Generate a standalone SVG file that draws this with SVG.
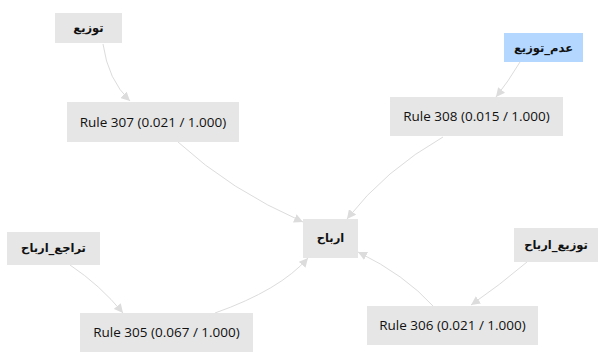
<svg xmlns="http://www.w3.org/2000/svg" width="600" height="352" viewBox="0 0 600 352">
<style>
.box{fill:#e6e6e6}
.blue{fill:#b3d7ff}
.rule{font-family:"Open Sans","Noto Sans",sans-serif;font-size:13.5px;fill:#111;text-anchor:middle}
.ar{font-family:"DejaVu Sans",sans-serif;font-size:11.5px;font-weight:bold;fill:#111;text-anchor:middle}
.edge{fill:none;stroke:#dcdcdc;stroke-width:1}
</style>
<defs>
<marker id="arr" viewBox="0 0 10 10" refX="10" refY="5" markerWidth="9" markerHeight="9" orient="auto" markerUnits="userSpaceOnUse">
<path d="M0,0 L10,5 L0,10 Z" fill="#dcdcdc"/>
</marker>
</defs>
<g id="connectors">
<path class="edge" d="M103,44 Q108,80 130,101" marker-end="url(#arr)"/>
<path class="edge" d="M178,142 Q230,190 303,222" marker-end="url(#arr)"/>
<path class="edge" d="M520,62 Q508,82 496,97" marker-end="url(#arr)"/>
<path class="edge" d="M443,137 Q385,170 347,219" marker-end="url(#arr)"/>
<path class="edge" d="M70,265 Q100,285 123,313" marker-end="url(#arr)"/>
<path class="edge" d="M215,313 Q280,290 308,258" marker-end="url(#arr)"/>
<path class="edge" d="M527,262 Q500,285 471,305" marker-end="url(#arr)"/>
<path class="edge" d="M433,306 Q405,275 358,252" marker-end="url(#arr)"/>
</g>
<g id="n_tawzi">
<rect class="box" x="55" y="13" width="67" height="30"/>
<text class="ar" x="88.5" y="32">توزيع</text>
</g>
<g id="n_adam_tawzi">
<rect class="blue" x="504" y="33" width="79" height="29"/>
<text class="ar" x="543.5" y="51.5">عدم_توزيع</text>
</g>
<g id="n_rule307">
<rect class="box" x="67" y="102" width="172" height="40"/>
<text class="rule" x="153" y="126.5">Rule 307 (0.021 / 1.000)</text>
</g>
<g id="n_rule308">
<rect class="box" x="390" y="97" width="173" height="39"/>
<text class="rule" x="476.5" y="121">Rule 308 (0.015 / 1.000)</text>
</g>
<g id="n_arbah">
<rect class="box" x="303" y="219" width="55" height="39"/>
<text class="ar" x="330.5" y="242">ارباح</text>
</g>
<g id="n_taraju">
<rect class="box" x="7" y="232" width="93" height="33"/>
<text class="ar" x="53.5" y="252">تراجع_ارباح</text>
</g>
<g id="n_tawzi_arbah">
<rect class="box" x="514" y="228" width="84" height="34"/>
<text class="ar" x="556" y="249">توزيع_ارباح</text>
</g>
<g id="n_rule305">
<rect class="box" x="80" y="313" width="173" height="39"/>
<text class="rule" x="166.5" y="337">Rule 305 (0.067 / 1.000)</text>
</g>
<g id="n_rule306">
<rect class="box" x="367" y="306" width="171" height="39"/>
<text class="rule" x="452.5" y="330">Rule 306 (0.021 / 1.000)</text>
</g>
</svg>
